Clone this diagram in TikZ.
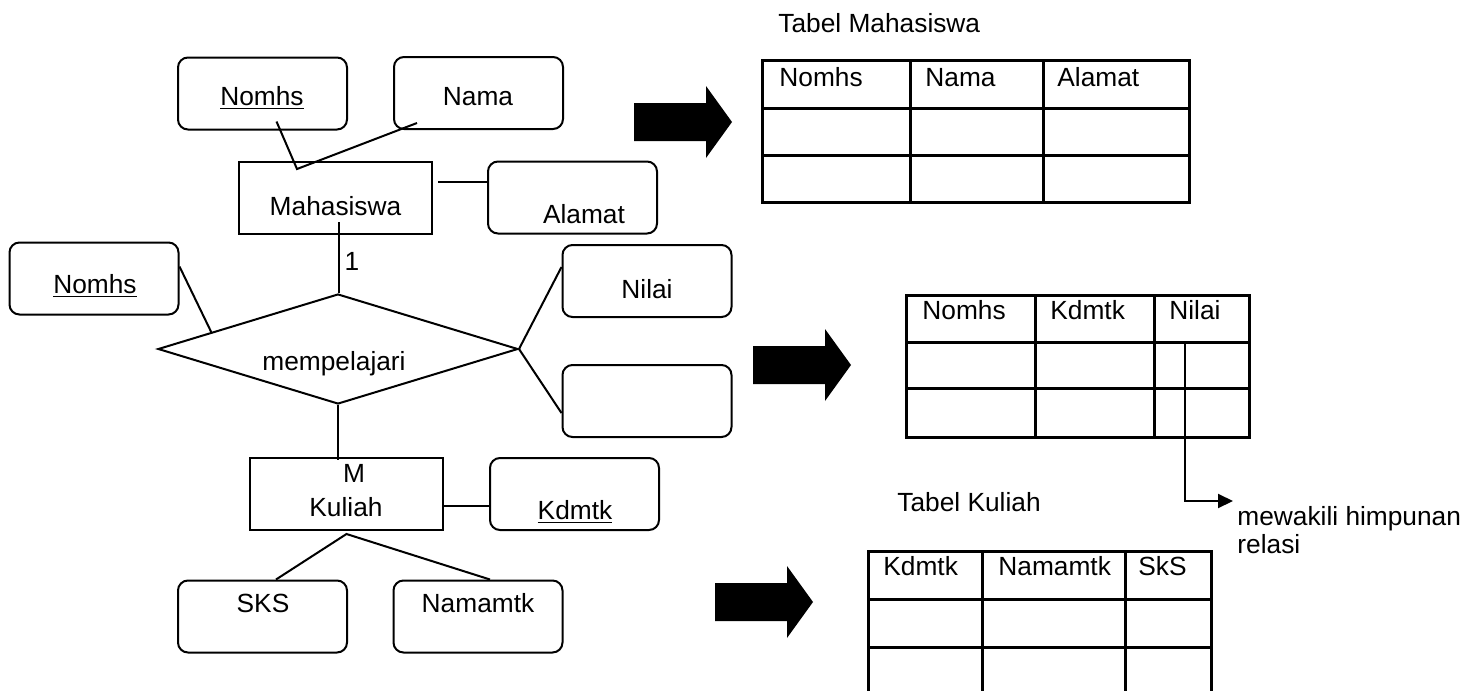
\documentclass[tikz,border=0pt]{standalone}
\usepackage{fontspec}
\setmainfont{Liberation Sans}
\usetikzlibrary{shapes.geometric,arrows.meta,calc}

\begin{document}
\begin{tikzpicture}[x=0.5pt,y=-0.5pt,
  every node/.style={font=\fontsize{13.15}{14}\selectfont},
  ent/.style={draw,line width=1pt,minimum width=96.5pt,minimum height=36pt,inner sep=0pt},
  attr/.style={draw,line width=1pt,rounded corners=5pt,minimum width=84.5pt,minimum height=36pt,inner sep=0pt},
  rel/.style={draw,diamond,line width=1pt,minimum width=180pt,minimum height=55pt,inner sep=0pt},
  txt/.style={anchor=base,inner sep=0pt},
  hd/.style={anchor=base west,inner sep=0pt},
  tbl/.style={line width=1.5pt},
  link/.style={line width=1pt}]
  \useasboundingbox (0,0) rectangle (1468,691);

  % Entities and relation
  \node[ent] (mhs) at (335.5,198) {};
  \node[ent] (kuliah) at (346.5,494) {};
  \node[rel] (ajar) at (338,349) {};

  % Attributes
  \node[attr] (nomhsA) at (262.5,93.5) {};
  \node[attr] (nama) at (478.5,93) {};
  \node[attr] (alamat) at (572.5,197.5) {};
  \node[attr] (nomhsB) at (94,278.5) {};
  \node[attr] (nilai) at (647,281) {};
  \node[attr] (kosong) at (647,401) {};
  \node[attr] (kdmtk) at (574.5,494) {};
  \node[attr] (sks) at (262.5,616.5) {};
  \node[attr] (namamtk) at (478,616.5) {};

  % Texts
  \node[txt] at (262,105) {\underline{Nomhs}};
  \node[txt] at (478,105) {Nama};
  \node[txt] at (335.5,215) {Mahasiswa};
  \node[txt] at (584,223) {Alamat};
  \node[txt] at (352,270) {1};
  \node[txt] at (95,293) {\underline{Nomhs}};
  \node[txt] at (647,298) {Nilai};
  \node[txt] at (334,370) {mempelajari};
  \node[txt] at (354,482) {M};
  \node[txt] at (346,516) {Kuliah};
  \node[txt] at (575,519) {\underline{Kdmtk}};
  \node[txt] at (263,612) {SKS};
  \node[txt] at (478,612) {Namamtk};

  % Lines
  \coordinate (mhsTop) at (297,169);
  \draw[link] ([xshift=7pt,yshift=4.5pt]nomhsA.south) -- (mhsTop) -- ([xshift=12pt,yshift=3.5pt]nama.south west);
  \draw[link] ([xshift=2.5pt,yshift=8pt]mhs.east) -- ([yshift=7.75pt]alamat.west);
  \draw[link] ([xshift=1.75pt,yshift=6.5pt]mhs.south) -- ([xshift=0.5pt]ajar.north);
  \draw[link] ([yshift=-12.5pt]nomhsB.north east) -- ($(ajar.west)!0.3!(ajar.north)$);
  \draw[link] (ajar.east) -- ([yshift=-11.5pt]nilai.north west);
  \draw[link] (ajar.east) -- ([yshift=12.5pt]kosong.south west);
  \draw[link] (ajar.south) -- ([yshift=-1.5pt]ajar.south |- kuliah.north);
  \draw[link] ([yshift=-6pt]kuliah.east) -- ([yshift=-6pt]kdmtk.west);
  \draw[link] ([xshift=6.75pt]sks.north) -- ([yshift=-1.5pt]kuliah.south) -- ([xshift=6pt]namamtk.north);

  % Big arrows
  \foreach \ax/\ay in {634/122, 753/365, 715/602} {
    \fill[black] ({\ax},{\ay-19}) -- ({\ax+72},{\ay-19}) -- ({\ax+72},{\ay-36}) -- ({\ax+98},{\ay})
      -- ({\ax+72},{\ay+36}) -- ({\ax+72},{\ay+19}) -- ({\ax},{\ay+19}) -- cycle;
  }

  % Tabel Mahasiswa
  \node[hd] (judulA) at (778,32) {Tabel Mahasiswa};
  \draw[tbl] (762,60) rectangle (1189,202);
  \draw[tbl] (910,60) -- (910,202) (1043,60) -- (1043,202);
  \draw[tbl] (762,108) -- (1189,108) (762,155) -- (1189,155);
  \node[hd] at (779,86) {Nomhs};
  \node[hd] at (925,86) {Nama};
  \node[hd] at (1057,86) {Alamat};

  % Tabel relasi
  \draw[tbl] (906,295) rectangle (1249,437);
  \draw[tbl] (1035,295) -- (1035,437) (1154,295) -- (1154,437);
  \draw[tbl] (906,342) -- (1249,342) (906,388) -- (1249,388);
  \node[hd] at (922,319) {Nomhs};
  \node[hd] at (1050,319) {Kdmtk};
  \node[hd] at (1169,319) {Nilai};
  \coordinate (split) at (1185,342);
  \coordinate (noteTip) at (1233,501);
  \draw[link,-{Triangle[length=7.5pt,width=7pt]}] (split) |- (noteTip);
  \node[hd,align=left] (note) at (1237,553) {mewakili himpunan\\relasi};

  % Tabel Kuliah
  \node[hd] (judulB) at (897,511) {Tabel Kuliah};
  \draw[tbl] (868,551) rectangle (1211,700);
  \draw[tbl] (982,551) -- (982,700) (1125,551) -- (1125,700);
  \draw[tbl] (868,599) -- (1211,599) (868,647) -- (1211,647);
  \node[hd] at (883,575) {Kdmtk};
  \node[hd] at (998,575) {Namamtk};
  \node[hd] at (1138,575) {SkS};
\end{tikzpicture}
\end{document}
